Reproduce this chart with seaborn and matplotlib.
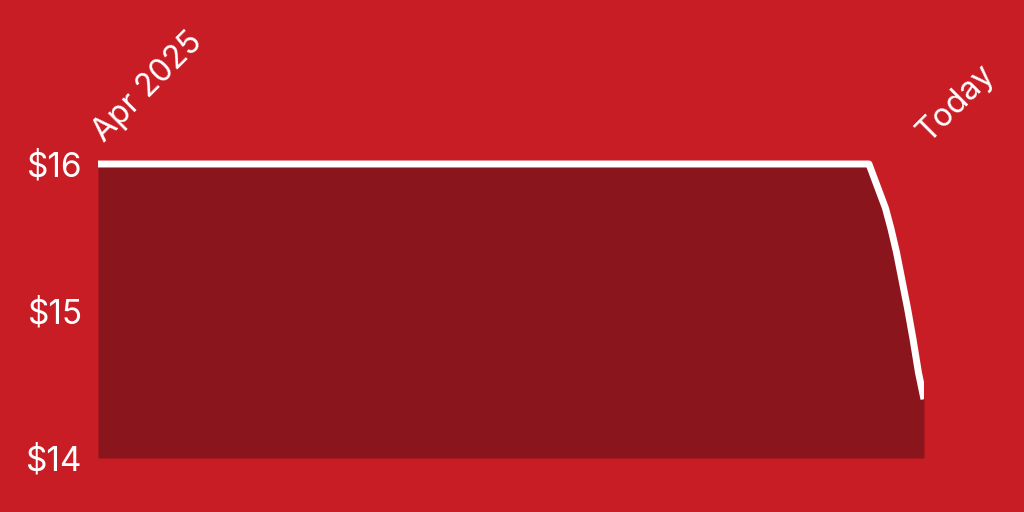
import numpy as np
import pandas as pd
import matplotlib
matplotlib.use('Agg')
import matplotlib.pyplot as plt
import seaborn as sns

# Price per day since Apr 2025 (last point = today)
days = [0, 60, 120, 180, 240, 270, 280, 282, 284, 286, 288, 290, 292, 294, 296, 298, 300]
price = [16.0, 16.0, 16.0, 16.0, 16.0, 16.0, 16.0, 15.90, 15.80, 15.70, 15.56,
         15.40, 15.21, 15.02, 14.81, 14.58, 14.40]
y_ticks = [14, 15, 16]
y_labels = ['$14', '$15', '$16']
start_label = 'Apr 2025'
end_label = 'Today'

bg = '#C91D26'
fill = '#8B151C'

df = pd.DataFrame({'day': days, 'price': price})

sns.set_style('white')
plt.rcParams['font.family'] = ['Inter', 'DejaVu Sans']

fig = plt.figure(figsize=(10.24, 5.12), dpi=100, facecolor=bg)
ax = fig.add_axes([98 / 1024, 54 / 512, 826 / 1024, (458 - 134.6) / 512])
ax.set_facecolor(bg)

ax.fill_between(df['day'], df['price'], 14, color=fill, lw=0)
sns.lineplot(data=df, x='day', y='price', ax=ax, color='white', lw=5,
             solid_capstyle='butt', solid_joinstyle='round')

ax.set_xlim(0, 300)
ax.set_ylim(14, 16.2)
ax.set_yticks(y_ticks)
ax.set_yticklabels(y_labels)
ax.set_xticks([])
ax.set_xlabel('')
ax.set_ylabel('')
ax.tick_params(axis='y', length=0, pad=11, labelsize=24, labelcolor='white')
for s in ax.spines.values():
    s.set_visible(False)

ax.annotate(start_label, xy=(days[0], price[0]), xytext=(4, 15), textcoords='offset points',
            rotation=45, rotation_mode='anchor', ha='left', va='baseline',
            color='white', fontsize=23)
ax.annotate(end_label, xy=(days[-1], 16.0), xytext=(3, 15), textcoords='offset points',
            rotation=45, rotation_mode='anchor', ha='left', va='baseline',
            color='white', fontsize=23)

fig.savefig('out.png', dpi=100, facecolor=bg)
